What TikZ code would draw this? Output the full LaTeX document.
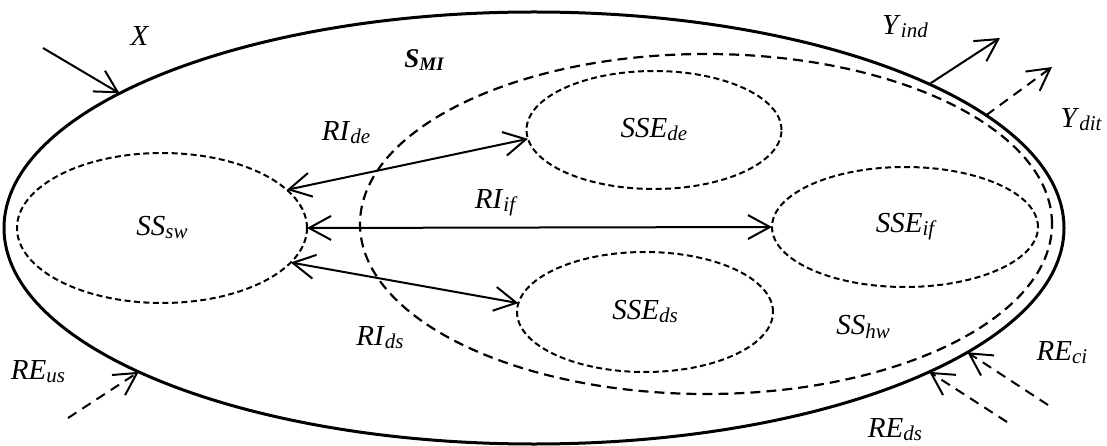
\documentclass[tikz,border=0pt]{standalone}
\usepackage{fontspec}
\setmainfont{Liberation Serif}
\usetikzlibrary{arrows.meta,shapes.geometric}
\newcommand\lbl[2]{\textit{#1}\raisebox{-3pt}{\fontsize{21}{21}\selectfont\itshape #2}}
\begin{document}
\begin{tikzpicture}[x=1pt,y=-1pt,
  every node/.style={font=\fontsize{29}{32}\selectfont},
  region/.style={ellipse,inner sep=0pt,outer sep=0pt,draw},
  outerell/.style={region,line width=3pt},
  hwell/.style={region,line width=2.2pt,dash pattern=on 10pt off 6pt},
  subell/.style={region,line width=2pt,dash pattern=on 6pt off 3.5pt},
  flow/.style={line width=2pt,-{Straight Barb[length=22pt,width=24pt]}},
  dflow/.style={flow,dash pattern=on 10pt off 7pt},
  biflow/.style={line width=2pt,{Straight Barb[length=22pt,width=24pt]}-{Straight Barb[length=22pt,width=24pt]}}
]
\useasboundingbox (0,0) rectangle (1107,446);
% regions
\node[outerell,minimum width=1060pt,minimum height=432pt] (smi) at (534,228) {};
\node[hwell,minimum width=692pt,minimum height=340pt] (sshw) at (706,224) {};
\node[subell,minimum width=290pt,minimum height=150pt] (sssw) at (162,228) {\lbl{SS}{sw}};
\node[subell,minimum width=255pt,minimum height=118pt] (ssede) at (654,130) {\lbl{SSE}{de}};
\node[subell,minimum width=256pt,minimum height=120pt] (sseds) at (645,312) {\lbl{SSE}{ds}};
\node[subell,minimum width=266pt,minimum height=120pt] (sseif) at (905,227) {\lbl{SSE}{if}};
% labels
\node[font=\fontsize{27}{30}\selectfont\bfseries\itshape] (lsmi) at (424,60) {S\raisebox{-3pt}{\fontsize{19}{19}\selectfont\bfseries\itshape MI}};
\node (lhw) at (863,327) {\lbl{SS}{hw}};
\node (lride) at (346,133) {\lbl{RI}{de}};
\node (lrif) at (495,203) {\lbl{RI}{if}};
\node (lrids) at (380,338) {\lbl{RI}{ds}};
\node (lx) at (140,36) {\textit{X}};
\node (lyind) at (905,27) {\lbl{Y}{ind}};
\node (lydit) at (1081,120) {\lbl{Y}{dit}};
\node (lreci) at (1062,353) {\lbl{RE}{ci}};
\node (lreds) at (895,430) {\lbl{RE}{ds}};
\node (lreus) at (38,372) {\lbl{RE}{us}};
% free ends
\coordinate (xs) at (43,48);
\coordinate (yinde) at (1000,38);
\coordinate (ydite) at (1052,67);
\coordinate (recis) at (1048,405);
\coordinate (redss) at (1007,422);
\coordinate (reuss) at (68,418);
% internal relations
\draw[biflow] (sssw.17.8) -- (ssede.184);
\draw[biflow] (sssw.east) -- (sseif.west);
\draw[biflow] (sssw.-15.8) -- (sseds.176.9);
% external flows
\draw[flow] (xs) -- (smi.162.4);
\draw[flow] (smi.20.2) -- (yinde);
\draw[dflow] (smi.14.5) -- (ydite);
\draw[dflow] (recis) -- (smi.-16.7);
\draw[dflow] (redss) -- (smi.-20.75);
\draw[dflow] (reuss) -- (smi.200.5);
\end{tikzpicture}
\end{document}
